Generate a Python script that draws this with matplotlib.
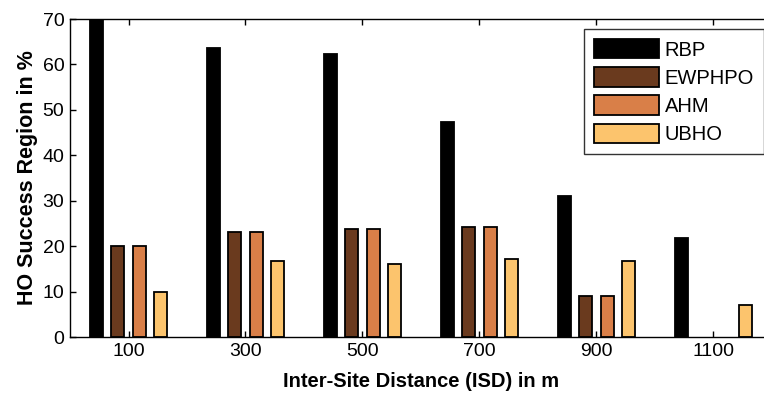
import matplotlib
matplotlib.use("Agg")
import matplotlib.pyplot as plt
import numpy as np

# ── data ──────────────────────────────────────────────────────────────────
isd_labels = ["100", "300", "500", "700", "900", "1100"]
series_names = ["RBP", "EWPHPO", "AHM", "UBHO"]
rbp    = [70.0, 63.6, 62.3, 47.4, 31.0, 21.9]
ewphpo = [20.0, 23.2, 23.8, 24.2, 9.0, 0.0]
ahm    = [20.0, 23.2, 23.8, 24.2, 9.0, 0.0]
ubho   = [10.0, 16.7, 16.1, 17.1, 16.8, 7.0]

colors = ["#000000", "#6a3a1e", "#d97f48", "#fcc46d"]

plt.rcParams["font.family"] = ["Liberation Sans", "DejaVu Sans"]

fig = plt.figure(figsize=(7.64, 3.94), dpi=100)
# axes runs slightly past the right edge, like the cropped original
ax = fig.add_axes([70 / 764, 57 / 394, 702 / 764, 318 / 394])

x = np.arange(1, len(isd_labels) + 1)
spacing = 0.182
width = 0.112
for i, (name, vals, col) in enumerate(zip(series_names,
                                           [rbp, ewphpo, ahm, ubho], colors)):
    bars = ax.bar(x + (i - 1.5) * spacing, vals, width, color=col,
                  edgecolor="black", linewidth=1.3, label=name)
    for b in bars:
        if b.get_height() == 0:
            b.set_linewidth(0)

ax.set_xlim(0.5, 6.5)
ax.set_ylim(0, 70)
ax.set_xticks(x)
ax.set_xticklabels(isd_labels)
ax.set_yticks(range(0, 71, 10))
ax.tick_params(direction="in", length=4, top=True, right=False,
               labelsize=14, width=1, pad=4)
for s in ["left", "bottom", "top"]:
    ax.spines[s].set_linewidth(1)
ax.spines["right"].set_visible(False)

ax.set_xlabel("Inter-Site Distance (ISD) in m", fontsize=14.5,
              fontweight="bold", labelpad=9)
ax.set_ylabel("HO Success Region in %", fontsize=15.5,
              fontweight="bold", labelpad=3)

leg = fig.legend(loc="upper left", bbox_to_anchor=(584 / 764, 1 - 29 / 394),
                 fontsize=14.5, frameon=True, fancybox=False,
                 handlelength=3.2, handleheight=1.1, labelspacing=0.38,
                 handletextpad=0.3, borderpad=0.5, borderaxespad=0)
leg.get_frame().set_edgecolor("black")
leg.get_frame().set_linewidth(1)

fig.savefig("out.png", dpi=100)
